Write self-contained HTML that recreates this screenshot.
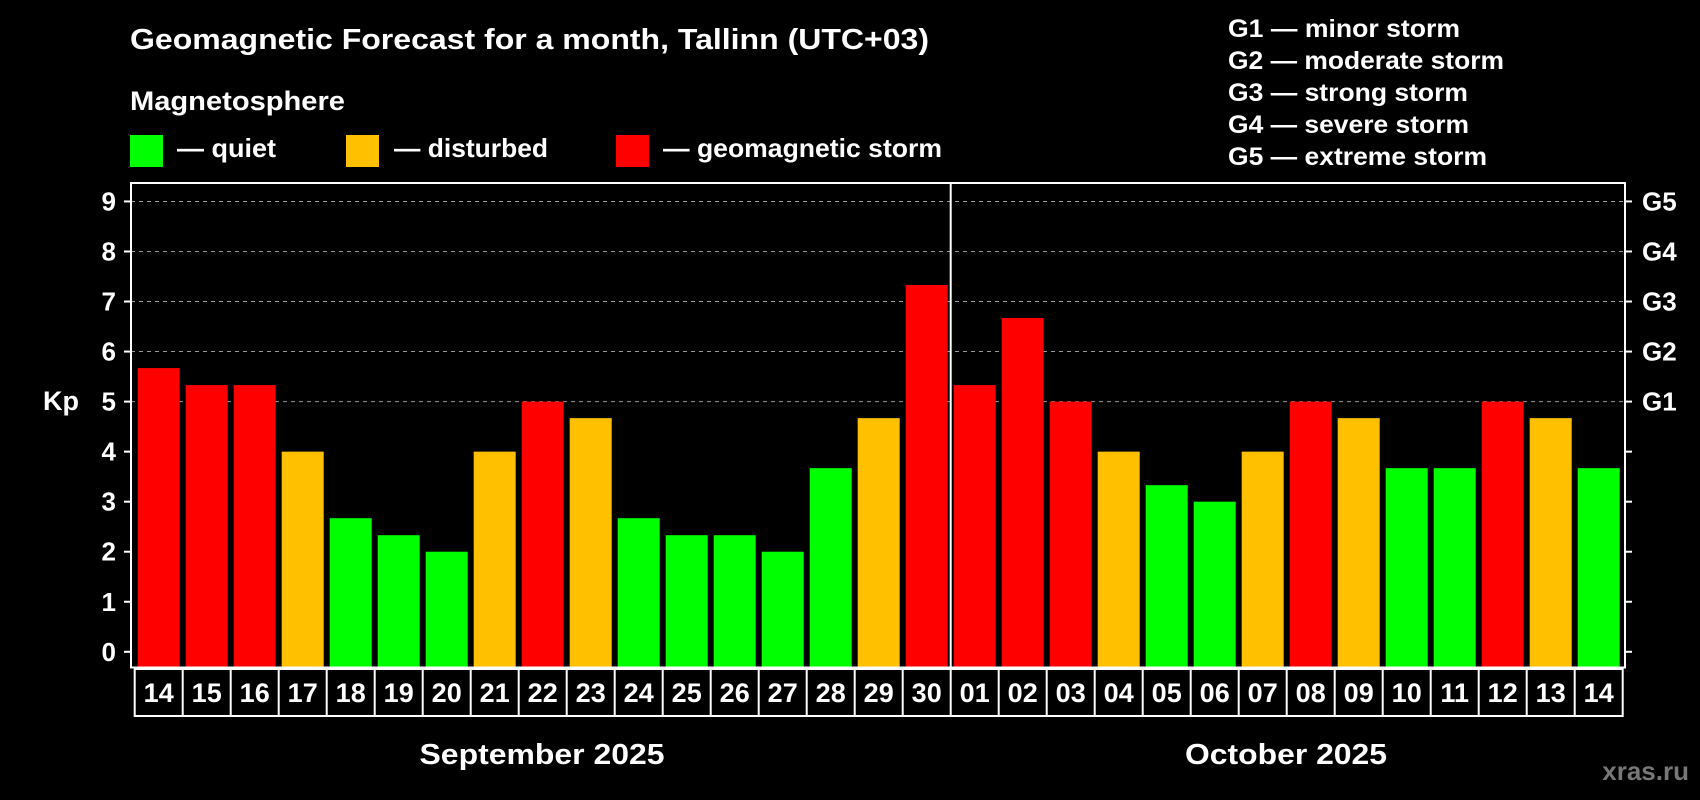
<!DOCTYPE html>
<html><head><meta charset="utf-8"><style>
html,body{margin:0;padding:0;background:#000;}
svg{display:block;font-family:"Liberation Sans",sans-serif;font-weight:bold;}
</style></head><body>
<svg id="chart" width="1700" height="800" viewBox="0 0 1700 800">
<rect x="0" y="0" width="1700" height="800" fill="#000"/>
<text x="130" y="49" font-size="29" fill="#fff" textLength="799" lengthAdjust="spacingAndGlyphs">Geomagnetic Forecast for a month, Tallinn (UTC+03)</text>
<text x="130" y="110" font-size="27" fill="#fff" textLength="215" lengthAdjust="spacingAndGlyphs">Magnetosphere</text>
<g><rect x="130" y="135" width="33" height="32" fill="#00ff00"/><text x="177" y="157" font-size="26" fill="#fff" textLength="99" lengthAdjust="spacingAndGlyphs">— quiet</text></g>
<g><rect x="346" y="135" width="33" height="32" fill="#ffc000"/><text x="394" y="157" font-size="26" fill="#fff" textLength="154" lengthAdjust="spacingAndGlyphs">— disturbed</text></g>
<g><rect x="616" y="135" width="33" height="32" fill="#ff0000"/><text x="663" y="157" font-size="26" fill="#fff" textLength="279" lengthAdjust="spacingAndGlyphs">— geomagnetic storm</text></g>
<g font-size="25" fill="#fff">
<text x="1228" y="37" textLength="232" lengthAdjust="spacingAndGlyphs">G1 — minor storm</text>
<text x="1228" y="69" textLength="276" lengthAdjust="spacingAndGlyphs">G2 — moderate storm</text>
<text x="1228" y="101" textLength="240" lengthAdjust="spacingAndGlyphs">G3 — strong storm</text>
<text x="1228" y="133" textLength="241" lengthAdjust="spacingAndGlyphs">G4 — severe storm</text>
<text x="1228" y="165" textLength="259" lengthAdjust="spacingAndGlyphs">G5 — extreme storm</text>
</g>
<text x="43" y="410" font-size="27" fill="#fff">Kp</text>
<g id="grid"></g>
<g id="bars"></g>
<g id="axes"></g>
<text x="542" y="764" font-size="29" fill="#fff" text-anchor="middle" textLength="245" lengthAdjust="spacingAndGlyphs">September 2025</text>
<text x="1286" y="764" font-size="29" fill="#fff" text-anchor="middle" textLength="202" lengthAdjust="spacingAndGlyphs">October 2025</text>
<text x="1689" y="780" font-size="26" fill="#777" text-anchor="end">xras.ru</text>
</svg>
<script>
const days = ["14","15","16","17","18","19","20","21","22","23","24","25","26","27","28","29","30","01","02","03","04","05","06","07","08","09","10","11","12","13","14"];
const kpValues = [5.67,5.33,5.33,4,2.67,2.33,2,4,5,4.67,2.67,2.33,2.33,2,3.67,4.67,7.33,5.33,6.67,5,4,3.33,3,4,5,4.67,3.67,3.67,5,4.67,3.67];
const yTicks = [0,1,2,3,4,5,6,7,8,9];
const gLabels = ["G1","G2","G3","G4","G5"];
const gLevels = [5,6,7,8,9];

const NS = "http://www.w3.org/2000/svg";
const plotL = 131, plotR = 1625, plotT = 183, plotB = 667.5;
const y0 = 651.8, unit = 50.04;
const x0 = 137.7, pitch = 48, bw = 42;
function yScale(v){ return y0 - v*unit; }
function xScale(i){ return x0 + i*pitch; }
function mk(tag, attrs, parent){ const e=document.createElementNS(NS,tag); for(const k in attrs) e.setAttribute(k,attrs[k]); parent.appendChild(e); return e; }
function colorFor(v){ return v>=5 ? "#ff0000" : (v>=4 ? "#ffc000" : "#00ff00"); }

const grid = document.getElementById("grid");
const bars = document.getElementById("bars");
const axes = document.getElementById("axes");

gLevels.forEach((lv,i)=>{
  const l = mk("line",{x1:plotL,x2:plotR,y1:yScale(lv),y2:yScale(lv),stroke:"#999","stroke-width":1,"stroke-dasharray":"4,4"},grid);
  
  
  const t = mk("text",{x:1642,y:yScale(lv)+9,"font-size":26,fill:"#fff"},axes);
  t.textContent = gLabels[i];
  
  
});

kpValues.forEach((v,i)=>{
  const r = mk("rect",{x:xScale(i),y:yScale(v),width:bw,height:plotB-yScale(v),fill:colorFor(v)},bars);
  
  
});

yTicks.forEach(v=>{
  const y = yScale(v);
  mk("line",{x1:124,x2:plotL,y1:y,y2:y,stroke:"#fff","stroke-width":2},axes);
  mk("line",{x1:plotR,x2:plotR+7,y1:y,y2:y,stroke:"#fff","stroke-width":2},axes);
  const t = mk("text",{x:116,y:y+9,"font-size":26,fill:"#fff","text-anchor":"end"},axes);
  t.textContent = v;
  
  
});

const frame = mk("rect",{x:plotL,y:plotT,width:plotR-plotL,height:plotB-plotT,fill:"none",stroke:"#fff","stroke-width":2},axes);


const monthIdx = days.indexOf("01");
const dx = (xScale(monthIdx-1)+bw+xScale(monthIdx))/2;
const div = mk("line",{x1:dx,x2:dx,y1:plotT,y2:plotB,stroke:"#fff","stroke-width":2},axes);



const cellL = 134.7, cellT = 669, cellB = 716;
const box = mk("rect",{x:cellL,y:cellT,width:days.length*pitch,height:cellB-cellT,fill:"none",stroke:"#fff","stroke-width":2},axes);


days.forEach((d,i)=>{
  if(i>0) mk("line",{x1:cellL+i*pitch,x2:cellL+i*pitch,y1:cellT,y2:cellB,stroke:"#fff","stroke-width":2},axes);
  const t = mk("text",{x:cellL+i*pitch+pitch/2,y:702,"font-size":27,fill:"#fff","text-anchor":"middle"},axes);
  t.textContent = d;
  
  
});
</script>
</body></html>
